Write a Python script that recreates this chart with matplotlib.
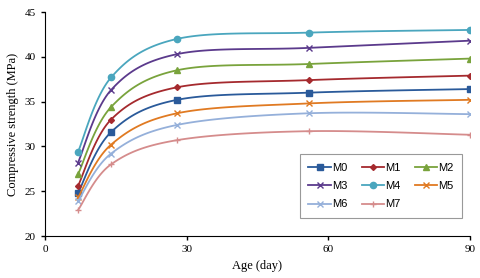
import numpy as np
import matplotlib
matplotlib.use("Agg")
import matplotlib.pyplot as plt

# curing age (days) and compressive strength (MPa) per mix
age = [7, 14, 28, 56, 90]
m0 = [24.8, 31.6, 35.2, 36.0, 36.4]
m1 = [25.6, 33.0, 36.6, 37.4, 37.9]
m2 = [26.9, 34.4, 38.5, 39.2, 39.8]
m3 = [28.2, 36.3, 40.3, 41.0, 41.8]
m4 = [29.4, 37.7, 42.0, 42.7, 43.0]
m5 = [24.3, 30.2, 33.7, 34.8, 35.2]
m6 = [23.9, 29.2, 32.4, 33.7, 33.6]
m7 = [22.9, 28.0, 30.7, 31.7, 31.3]
labels = ["M0", "M1", "M2", "M3", "M4", "M5", "M6", "M7"]
series = [m0, m1, m2, m3, m4, m5, m6, m7]

colors = ["#2A5A9A", "#A52A2E", "#79A33C", "#5B3A8C",
          "#4AA6BE", "#E07A22", "#95B0DA", "#D58C8C"]
markers = ["s", "D", "^", "x", "o", "x", "x", "+"]
msizes = [4.5, 3, 4.5, 4.5, 4.5, 4.5, 4.5, 4.5]


def smooth(x, y, n=30, t=0.5):
    # Excel-like smoothed line (cardinal spline through the points)
    x = np.asarray(x, float)
    y = np.asarray(y, float)
    px = np.concatenate([[x[0]], x, [x[-1]]])
    py = np.concatenate([[y[0]], y, [y[-1]]])
    xs, ys = [], []
    s = np.linspace(0, 1, n)
    for i in range(1, len(px) - 2):
        p0x, p1x, p2x, p3x = px[i - 1:i + 3]
        p0y, p1y, p2y, p3y = py[i - 1:i + 3]
        m1x, m1y = t * (p2x - p0x), t * (p2y - p0y)
        m2x, m2y = t * (p3x - p1x), t * (p3y - p1y)
        h00 = 2 * s**3 - 3 * s**2 + 1
        h10 = s**3 - 2 * s**2 + s
        h01 = -2 * s**3 + 3 * s**2
        h11 = s**3 - s**2
        xs.append(h00 * p1x + h10 * m1x + h01 * p2x + h11 * m2x)
        ys.append(h00 * p1y + h10 * m1y + h01 * p2y + h11 * m2y)
    return np.concatenate(xs), np.concatenate(ys)


fig = plt.figure(figsize=(4.8, 2.78), dpi=100)
ax = fig.add_axes([45 / 480, 1 - 236 / 278, 425 / 480, 224 / 278])

handles = {}
for lab, vals, c, mk, ms in zip(labels, series, colors, markers, msizes):
    sx, sy = smooth(age, vals)
    ax.plot(sx, sy, color=c, lw=1.3)
    ax.plot(age, vals, linestyle="none", marker=mk, color=c, ms=ms,
            mew=1.0)
    handles[lab], = ax.plot([], [], color=c, lw=1.3, marker=mk, ms=ms,
                            label=lab)

ax.set_xlim(0, 90)
ax.set_ylim(20, 45)
ax.set_xticks([0, 30, 60, 90])
ax.set_yticks([20, 25, 30, 35, 40, 45])
for s in ["top", "right"]:
    ax.spines[s].set_visible(False)
ax.tick_params(direction="out", length=3, width=1, labelsize=8,
               colors="black")
for lbl in ax.get_xticklabels() + ax.get_yticklabels():
    lbl.set_family("Liberation Serif")
ax.set_xlabel("Age (day)", family="Liberation Serif", fontsize=9)
ax.set_ylabel("Compressive strength (MPa)", family="Liberation Serif",
              fontsize=9)

# legend filled row by row like the original
order = ["M0", "M3", "M6", "M1", "M4", "M7", "M2", "M5"]
leg = ax.legend([handles[k] for k in order], order, ncol=3,
                loc="lower right", bbox_to_anchor=(0.995, 0.054),
                prop={"family": "Liberation Sans", "size": 8},
                frameon=True, fancybox=False, edgecolor="#808080",
                handlelength=2.0, handletextpad=0.1, columnspacing=1.3,
                labelspacing=0.75, borderpad=0.8)
leg.get_frame().set_linewidth(0.8)

fig.savefig("out.png", dpi=100)
